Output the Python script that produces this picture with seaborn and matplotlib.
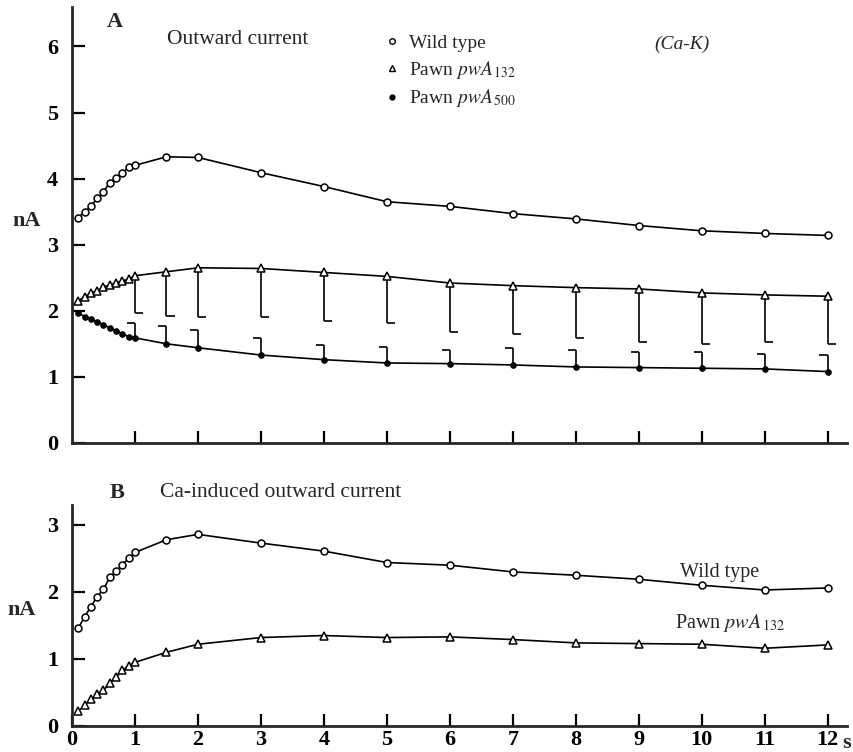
import seaborn as sns
import matplotlib.pyplot as plt
from matplotlib.lines import Line2D

# time points (s)
time_s = [0.1, 0.2, 0.3, 0.4, 0.5, 0.6, 0.7, 0.8, 0.9, 1.0,
          1.5, 2, 3, 4, 5, 6, 7, 8, 9, 10, 11, 12]

# panel A: outward current (nA)
a_wild = [3.41, 3.50, 3.58, 3.70, 3.80, 3.94, 4.01, 4.09, 4.17, 4.20,
          4.33, 4.32, 4.09, 3.88, 3.65, 3.58, 3.47, 3.39, 3.29, 3.21, 3.17, 3.14]
a_pw132 = [2.15, 2.21, 2.27, 2.30, 2.36, 2.39, 2.42, 2.45, 2.48, 2.53,
           2.59, 2.65, 2.64, 2.58, 2.52, 2.42, 2.38, 2.35, 2.33, 2.27, 2.24, 2.22]
a_pw500 = [1.97, 1.91, 1.88, 1.83, 1.79, 1.74, 1.70, 1.65, 1.61, 1.59,
           1.50, 1.44, 1.33, 1.26, 1.21, 1.20, 1.18, 1.15, 1.14, 1.13, 1.12, 1.08]

# one-sided error bars in panel A
err_t = [1, 1.5, 2, 3, 4, 5, 6, 7, 8, 9, 10, 11, 12]
pw132_low = [a_pw132[time_s.index(t)] for t in err_t]
pw132_err_end = [1.97, 1.92, 1.91, 1.91, 1.84, 1.82, 1.68, 1.65, 1.59, 1.53, 1.50, 1.52, 1.50]
pw500_high = [a_pw500[time_s.index(t)] for t in err_t]
pw500_err_end = [1.82, 1.77, 1.71, 1.59, 1.48, 1.45, 1.41, 1.44, 1.41, 1.38, 1.38, 1.35, 1.33]

# panel B: Ca-induced outward current (nA)
b_wild = [1.46, 1.63, 1.78, 1.93, 2.04, 2.22, 2.31, 2.41, 2.50, 2.59,
          2.78, 2.86, 2.73, 2.61, 2.44, 2.40, 2.30, 2.25, 2.19, 2.10, 2.03, 2.06]
b_pw132 = [0.22, 0.31, 0.40, 0.47, 0.53, 0.64, 0.73, 0.83, 0.90, 0.95,
           1.10, 1.22, 1.32, 1.35, 1.32, 1.33, 1.29, 1.24, 1.23, 1.22, 1.16, 1.21]

sns.set_theme(style="ticks")
plt.rcParams["font.family"] = ["Liberation Serif", "DejaVu Serif"]
plt.rcParams["mathtext.fontset"] = "stix"

fig = plt.figure(figsize=(8.54, 7.52), dpi=100)
ax_a = fig.add_axes([0.0843, 0.411, 0.907, 0.580])
ax_b = fig.add_axes([0.0843, 0.0346, 0.907, 0.294])

open_circle = dict(marker="o", markersize=5, markerfacecolor="white",
                   markeredgecolor="black", markeredgewidth=1.1)
open_tri = dict(marker="^", markersize=5.5, markerfacecolor="white",
                markeredgecolor="black", markeredgewidth=1.1)
dot = dict(marker="o", markersize=4, markerfacecolor="black",
           markeredgecolor="black")

# error bars first so markers sit on top
ax_a.vlines(err_t, pw132_err_end, pw132_low, color="black", lw=1.2)
ax_a.hlines(pw132_err_end, err_t, [t + 0.13 for t in err_t], color="black", lw=1.2)
ax_a.vlines(err_t, pw500_high, pw500_err_end, color="black", lw=1.2)
ax_a.hlines(pw500_err_end, [t - 0.13 for t in err_t], err_t, color="black", lw=1.2)

sns.lineplot(x=time_s, y=a_wild, ax=ax_a, color="black", lw=1.2, **open_circle)
sns.lineplot(x=time_s, y=a_pw132, ax=ax_a, color="black", lw=1.2, **open_tri)
sns.lineplot(x=time_s, y=a_pw500, ax=ax_a, color="black", lw=1.2, **dot)

sns.lineplot(x=time_s, y=b_wild, ax=ax_b, color="black", lw=1.2, **open_circle)
sns.lineplot(x=time_s, y=b_pw132, ax=ax_b, color="black", lw=1.2, **open_tri)

for ax in (ax_a, ax_b):
    sns.despine(ax=ax)
    ax.spines["left"].set_linewidth(2)
    ax.spines["bottom"].set_linewidth(2)
    ax.set_xlim(0, 12.3)
    ax.tick_params(direction="in", length=9, width=1.6, labelsize=16, colors="black")
    ax.set_xlabel("")
    ax.set_ylabel("")

ax_a.set_ylim(0, 6.6)
ax_a.set_yticks(range(0, 7))
ax_a.set_xticks(range(1, 13))
ax_a.tick_params(axis="x", labelbottom=False)
ax_a.tick_params(axis="y", pad=10)

ax_b.set_ylim(0, 3.3)
ax_b.set_yticks(range(0, 4))
ax_b.set_xticks(range(0, 13))
ax_b.tick_params(axis="y", pad=10)
ax_b.tick_params(axis="x", pad=3)
for lbl in ax_b.get_yticklabels() + ax_b.get_xticklabels() + ax_a.get_yticklabels():
    lbl.set_fontweight("bold")

# panel A texts
ax_a.text(0.055, 0.966, "A", transform=ax_a.transAxes, fontsize=16,
          fontweight="bold", ha="center", va="center")
ax_a.text(0.123, 0.924, "Outward current", transform=ax_a.transAxes,
          fontsize=15.5, ha="left", va="center")
ax_a.text(0.787, 0.913, "(Ca-K)", transform=ax_a.transAxes, fontsize=14,
          style="italic", ha="center", va="center")
ax_a.text(-0.058, 0.509, "nA", transform=ax_a.transAxes, fontsize=16,
          fontweight="bold", ha="center", va="center")

handles = [
    Line2D([], [], ls="none", marker="o", markersize=4, markerfacecolor="white",
           markeredgecolor="black"),
    Line2D([], [], ls="none", marker="^", markersize=4.5, markerfacecolor="white",
           markeredgecolor="black"),
    Line2D([], [], ls="none", marker="o", markersize=3.5, markerfacecolor="black",
           markeredgecolor="black"),
]
labels = ["Wild type", r"Pawn $pwA_{\,132}$", r"Pawn $pwA_{\,500}$"]
ax_a.legend(handles, labels, loc="upper left", bbox_to_anchor=(0.395, 0.955),
            frameon=False, fontsize=14, handlelength=0.6, handletextpad=0.6,
            labelspacing=0.35, borderaxespad=0)

# panel B texts
ax_b.text(0.058, 1.054, "B", transform=ax_b.transAxes, fontsize=16,
          fontweight="bold", ha="center", va="center")
ax_b.text(0.114, 1.054, "Ca-induced outward current", transform=ax_b.transAxes,
          fontsize=15.5, ha="left", va="center")
ax_b.text(0.836, 0.692, "Wild type", transform=ax_b.transAxes, fontsize=14.5,
          ha="center", va="center")
ax_b.text(0.850, 0.466, r"Pawn $pwA_{\,132}$", transform=ax_b.transAxes,
          fontsize=14.5, ha="center", va="center")
ax_b.text(-0.065, 0.525, "nA", transform=ax_b.transAxes, fontsize=16,
          fontweight="bold", ha="center", va="center")
ax_b.text(1.0, -0.077, "s", transform=ax_b.transAxes, fontsize=16,
          fontweight="bold", ha="center", va="center")

fig.savefig("out.png", dpi=100)
